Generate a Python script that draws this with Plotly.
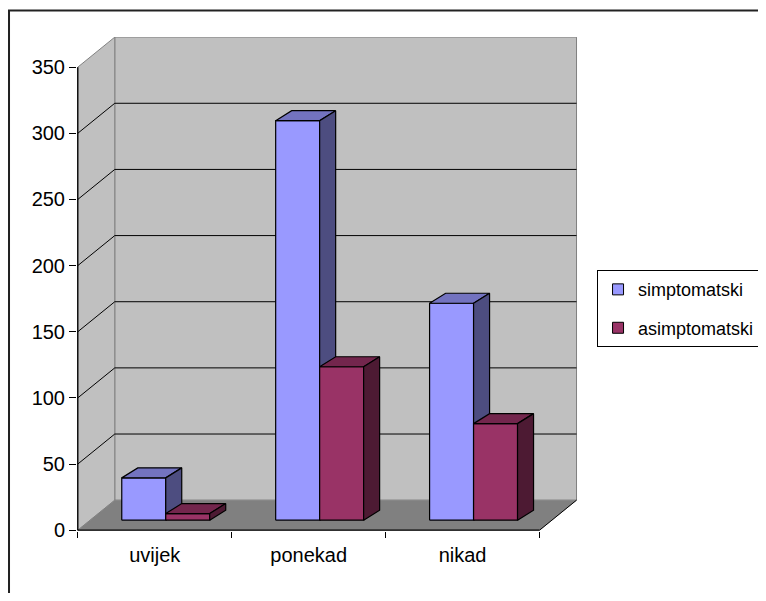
import plotly.graph_objects as go

# ---- data ----
categories = ["uvijek", "ponekad", "nikad"]
simptomatski = [32, 302, 164]
asimptomatski = [5, 116, 73]
series_names = ["simptomatski", "asimptomatski"]
y_tick_values = [0, 50, 100, 150, 200, 250, 300, 350]

# ---- styling / pseudo-3D geometry (in axis units) ----
FONT = "Liberation Sans, Arial, sans-serif"
WALL_DX, WALL_DY = 0.2404, 22.7      # depth of floor / walls
BAR_SX, BAR_SY = 0.0715, 7.56        # shift of the bar front from the front plane
BAR_BX, BAR_BY = 0.104, 7.56         # bar depth
BAR_W = 1 / 3.5                      # gap width 150 %
N = len(categories)
YMAX = y_tick_values[-1]

face_cols = {
    "simptomatski": ("#9999FF", "#7373C0", "#4D4D80"),
    "asimptomatski": ("#993366", "#73264D", "#4D1A33"),
}

fig = go.Figure()


def poly(xs, ys, fill, line_col, lw=1):
    fig.add_trace(go.Scatter(
        x=list(xs) + [xs[0]], y=list(ys) + [ys[0]], mode="lines",
        fill="toself", fillcolor=fill,
        line=dict(color=line_col, width=lw),
        hoverinfo="skip", showlegend=False))


def seg(xs, ys, col, lw=1):
    fig.add_trace(go.Scatter(x=xs, y=ys, mode="lines",
                             line=dict(color=col, width=lw),
                             hoverinfo="skip", showlegend=False))


# back wall
poly([WALL_DX, N + WALL_DX, N + WALL_DX, WALL_DX],
     [WALL_DY, WALL_DY, YMAX + WALL_DY, YMAX + WALL_DY], "#C0C0C0", "#808080")
# side wall
poly([0, WALL_DX, WALL_DX, 0],
     [0, WALL_DY, YMAX + WALL_DY, YMAX], "#C0C0C0", "#808080")
# floor
poly([0, N, N + WALL_DX, WALL_DX], [0, 0, WALL_DY, WALL_DY], "#808080", "#808080", 0.5)

# gridlines on walls
gx, gy = [], []
for v in y_tick_values[1:-1]:
    gx += [0, WALL_DX, N + WALL_DX, None]
    gy += [v, v + WALL_DY, v + WALL_DY, None]
seg(gx, gy, "black", 1)

# floor right edge
seg([N, N + WALL_DX], [0, WALL_DY], "black", 1)

# bars
data = {"simptomatski": simptomatski, "asimptomatski": asimptomatski}
for i in range(N):
    for j, name in enumerate(series_names):
        v = data[name][i]
        front, top, side = face_cols[name]
        x0 = i + 0.5 + BAR_SX + (j - 1) * BAR_W
        x1 = x0 + BAR_W
        b = BAR_SY
        poly([x0, x1, x1, x0], [b, b, b + v, b + v], front, "black", 1.2)
        poly([x0, x1, x1 + BAR_BX, x0 + BAR_BX],
             [b + v, b + v, b + v + BAR_BY, b + v + BAR_BY], top, "black", 1.2)
        poly([x1, x1 + BAR_BX, x1 + BAR_BX, x1],
             [b, b + BAR_BY, b + v + BAR_BY, b + v], side, "black", 1.2)

# front axis lines
seg([0, 0], [0, YMAX], "black", 1.3)
seg([0, N], [0, 0], "black", 1.3)

# legend entries
for g, name in enumerate(series_names):
    fig.add_trace(go.Scatter(
        x=[None], y=[None], mode="markers", name=name, legendgroup=name,
        marker=dict(symbol="square", size=11, color=face_cols[name][0],
                    line=dict(color="black", width=1))))

fig.update_layout(
    width=750, height=585, autosize=False,
    margin=dict(l=69, r=180, t=29, b=62, autoexpand=False),
    paper_bgcolor="white", plot_bgcolor="white",
    font=dict(family=FONT, size=20, color="black"),
    showlegend=True,
    legend=dict(x=1.038, y=0.528, xanchor="left", yanchor="top",
                bordercolor="black", borderwidth=1, bgcolor="white",
                tracegroupgap=12, traceorder="grouped",
                font=dict(family=FONT, size=18, color="black")),
    xaxis=dict(range=[-0.005, 3.25], showgrid=False, zeroline=False,
               showline=False, tickmode="array", automargin=False,
               tickvals=[i + 0.5 for i in range(N)], ticktext=categories,
               ticks="", ticklabelstandoff=10,
               minor=dict(tickmode="array", tickvals=list(range(N + 1)),
                          ticks="outside", ticklen=6, tickcolor="black",
                          tickwidth=1, showgrid=False)),
    yaxis=dict(range=[-0.6, 372.8], showgrid=False, zeroline=False,
               showline=False, tickmode="array", tickvals=y_tick_values,
               automargin=False,
               ticks="outside", ticklen=7, tickcolor="black", tickwidth=1),
    shapes=[dict(type="rect", xref="paper", yref="paper",
                 x0=-0.1357, x1=1.45, y0=-0.3, y1=1.0536,
                 line=dict(color="#222222", width=2), fillcolor="rgba(0,0,0,0)")],
)

fig.write_html("out.html")
